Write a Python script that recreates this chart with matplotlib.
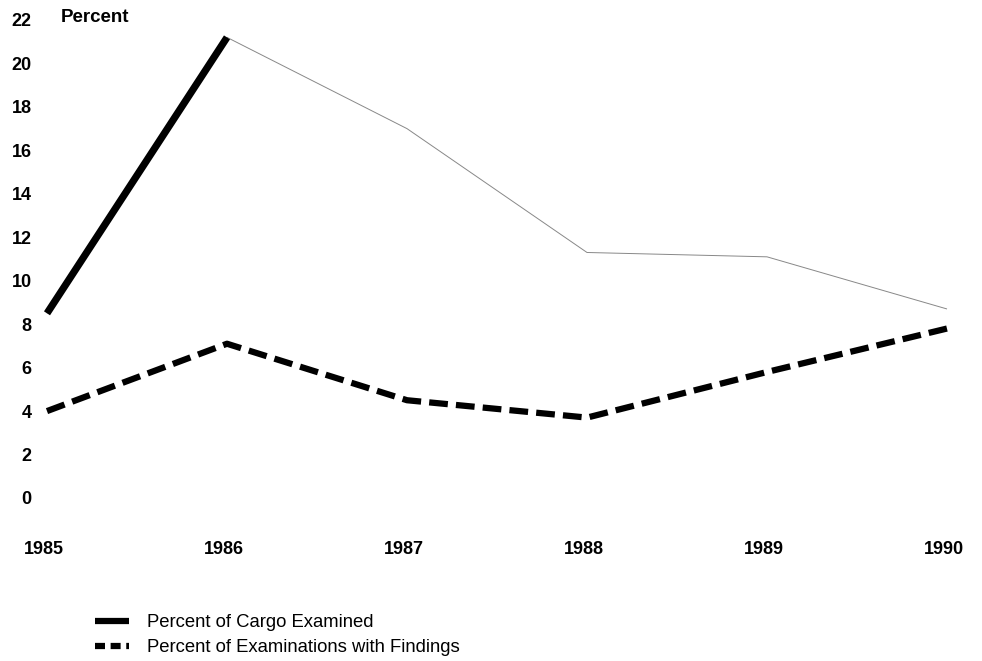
import matplotlib
matplotlib.use("Agg")
import matplotlib.pyplot as plt
import matplotlib.transforms as mtransforms
from matplotlib.lines import Line2D

years = [1985, 1986, 1987, 1988, 1989, 1990]
cargo_examined = [8.5, 21.2, 17.0, 11.3, 11.1, 8.7]
exams_with_findings = [4.0, 7.1, 4.5, 3.7, 5.8, 7.8]
y_ticks = list(range(0, 23, 2))
series_labels = ["Percent of Cargo Examined", "Percent of Examinations with Findings"]

plt.rcParams['font.family'] = ['Liberation Sans', 'DejaVu Sans']

W, H = 982, 661
fig = plt.figure(figsize=(W / 100, H / 100), dpi=100)
left, right = 47, 947
top, bottom = 20, 498
ax = fig.add_axes([left / W, (H - bottom) / H, (right - left) / W, (bottom - top) / H])
ax.set_xlim(1985, 1990)
ax.set_ylim(0, 22)
for s in ax.spines.values():
    s.set_visible(False)

ax.plot(years, cargo_examined, color='#888888', lw=0.7, solid_capstyle='butt', clip_on=False)
ax.plot(years[:2], cargo_examined[:2], color='black', lw=5.2, solid_capstyle='butt', clip_on=False)

ax.plot(years, exams_with_findings, color='black', lw=4.5, dashes=(3.0, 1.3),
        dash_capstyle='butt', clip_on=False)

ax.set_yticks(y_ticks)
ax.set_yticklabels([str(v) for v in y_ticks], fontsize=13, fontweight='bold')
ax.tick_params(axis='y', length=0, pad=11)

ax.set_xticks(years)
ax.set_xticklabels([str(y) for y in years], fontsize=13, fontweight='bold')
ax.tick_params(axis='x', length=0, pad=31)
shift = mtransforms.ScaledTranslation(-3 / 100, 0, fig.dpi_scale_trans)
for lab in ax.get_xticklabels():
    lab.set_transform(lab.get_transform() + shift)

fig.text(61 / W, 1 - 17 / H, "Percent", fontsize=13.5, fontweight='bold', va='center', ha='left')

handles = [Line2D([0], [0], color='black', lw=4.5, solid_capstyle='butt'),
           Line2D([0], [0], color='black', lw=4.5, dashes=(1.6, 0.9), dash_capstyle='butt')]
fig.legend(handles, series_labels, loc='upper left', bbox_to_anchor=(88 / W, 1 - 607 / H),
           frameon=False, fontsize=13.3, handlelength=1.8, handletextpad=1.0,
           labelspacing=0.42, borderaxespad=0)

fig.savefig("out.png", dpi=100)
